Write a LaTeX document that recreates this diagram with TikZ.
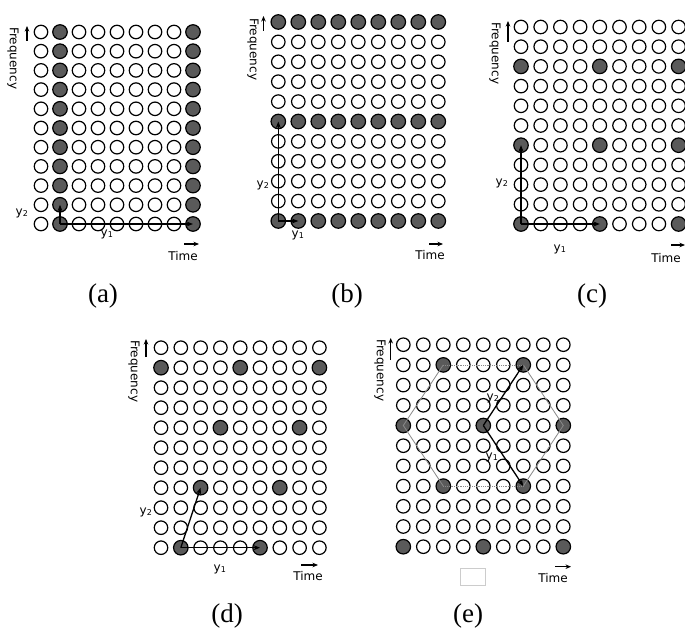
\documentclass[tikz,border=0pt]{standalone}
\usepackage{fontspec}
\setmainfont{Liberation Serif}
\newfontfamily\labfont{DejaVu Sans}
\usetikzlibrary{arrows.meta}
\definecolor{dotgray}{HTML}{5A5A5A}
\definecolor{hexgray}{HTML}{8A8A8A}
\begin{document}
\begin{tikzpicture}[x=1pt,y=-1pt,
  opn/.style={circle,draw=black,line width=1.2pt,minimum size=13.5pt,inner sep=0pt},
  fil/.style={opn,fill=dotgray,minimum size=14.5pt},
  vec/.style={line width=1.3pt,-{Stealth[length=6.5pt,width=5pt]}},
  axarrow/.style={line width=1.1pt,-{Stealth[length=5.5pt,width=4.5pt]}},
  small/.style={font=\labfont\fontsize{12}{14}\selectfont,inner sep=0pt},
  freqlab/.style={small,rotate=-90,anchor=west},
  subcap/.style={font=\fontsize{27}{30}\selectfont,inner sep=0pt,anchor=base},
  hexline/.style={hexgray,line width=0.8pt}]
\fill[white] (0,0) rectangle (685,628);
\useasboundingbox (0,0) rectangle (685,628);

% ---------- panel (a)
\begin{scope}[shift={(41,224)},x=19pt,y=19.2pt]
\foreach \i in {0,...,8}{\foreach \j in {0,...,10}{
  \pgfmathtruncatemacro\isf{or(\i==1,\i==8)}
  \ifnum\isf=1 \node[fil] (a-\i-\j) at (\i,\j) {};\else \node[opn] (a-\i-\j) at (\i,\j) {};\fi}}
\end{scope}
\draw[vec] (a-1-0.center) -- (a-8-0.center);
\draw[vec] (a-1-0.center) -- (a-1-1.center);
\node[small] (a-y1) at (107,234) {y\textsubscript{1}};
\node[small] (a-y2) at (22,213) {y\textsubscript{2}};
\node[freqlab] (a-freq) at (13,27) {Frequency};
\coordinate (a-fb) at (27,41); \coordinate (a-ft) at (27,26);
\draw[axarrow] (a-fb) -- (a-ft);
\node[small] (a-time) at (183,256) {Time};
\coordinate (a-tl) at (184,244); \coordinate (a-tr) at (199,244);
\draw[axarrow] (a-tl) -- (a-tr);
\node[subcap] (a-cap) at (103,302) {(a)};

% ---------- panel (b)
\begin{scope}[shift={(278.3,221)},x=20pt,y=19.9pt]
\foreach \i in {0,...,8}{\foreach \j in {0,...,10}{
  \pgfmathtruncatemacro\isf{or(\j==0,or(\j==5,\j==10))}
  \ifnum\isf=1 \node[fil] (b-\i-\j) at (\i,\j) {};\else \node[opn] (b-\i-\j) at (\i,\j) {};\fi}}
\end{scope}
\draw[vec] (b-0-0.center) -- (b-1-0.center);
\draw[vec] (b-0-0.center) -- (b-0-5.center);
\node[small] (b-y1) at (298,235) {y\textsubscript{1}};
\node[small] (b-y2) at (263,185) {y\textsubscript{2}};
\node[freqlab] (b-freq) at (253,18) {Frequency};
\coordinate (b-fb) at (263.5,31); \coordinate (b-ft) at (263.5,16);
\draw[axarrow] (b-fb) -- (b-ft);
\node[small] (b-time) at (430,255) {Time};
\coordinate (b-tl) at (429,244); \coordinate (b-tr) at (443,244);
\draw[axarrow] (b-tl) -- (b-tr);
\node[subcap] (b-cap) at (347,302) {(b)};

% ---------- panel (c)
\begin{scope}[shift={(521,224)},x=19.7pt,y=19.7pt]
\foreach \i in {0,...,8}{\foreach \j in {0,...,10}{
  \pgfmathtruncatemacro\isf{and(mod(\i,4)==0,mod(\j,4)==0)}
  \ifnum\isf=1 \node[fil] (c-\i-\j) at (\i,\j) {};\else \node[opn] (c-\i-\j) at (\i,\j) {};\fi}}
\end{scope}
\draw[vec] (c-0-0.center) -- (c-4-0.center);
\draw[vec] (c-0-0.center) -- (c-0-4.center);
\node[small] (c-y1) at (560,249) {y\textsubscript{1}};
\node[small] (c-y2) at (502,183) {y\textsubscript{2}};
\node[freqlab] (c-freq) at (495,22) {Frequency};
\coordinate (c-fb) at (508,42); \coordinate (c-ft) at (508,21);
\draw[axarrow] (c-fb) -- (c-ft);
\node[small] (c-time) at (666,258) {Time};
\coordinate (c-tl) at (671,245); \coordinate (c-tr) at (685,245);
\draw[axarrow] (c-tl) -- (c-tr);
\node[subcap] (c-cap) at (592,302) {(c)};

% ---------- panel (d)
\begin{scope}[shift={(161,547.7)},x=19.8pt,y=20pt]
\foreach \i in {0,...,8}{\foreach \j in {0,...,10}{
  \pgfmathtruncatemacro\isf{mod(3*\i+33-\j,12)==0}
  \ifnum\isf=1 \node[fil] (d-\i-\j) at (\i,\j) {};\else \node[opn] (d-\i-\j) at (\i,\j) {};\fi}}
\end{scope}
\draw[vec] (d-1-0.center) -- (d-5-0.center);
\draw[vec] (d-1-0.center) -- (d-2-3.center);
\node[small] (d-y1) at (220,569) {y\textsubscript{1}};
\node[small] (d-y2) at (146,512) {y\textsubscript{2}};
\node[freqlab] (d-freq) at (134,340) {Frequency};
\coordinate (d-fb) at (146,357); \coordinate (d-ft) at (146,339);
\draw[axarrow] (d-fb) -- (d-ft);
\node[small] (d-time) at (308,576) {Time};
\coordinate (d-tl) at (301,565); \coordinate (d-tr) at (318,565);
\draw[axarrow] (d-tl) -- (d-tr);
\node[subcap] (d-cap) at (227,622) {(d)};

% ---------- panel (e)
\begin{scope}[shift={(403.3,546.7)},x=20pt,y=20.2pt]
\foreach \i in {0,...,8}{\foreach \j in {0,...,10}{
  \pgfmathtruncatemacro\isf{mod(3*\i-2*\j+24,12)==0}
  \ifnum\isf=1 \node[fil] (e-\i-\j) at (\i,\j) {};\else \node[opn] (e-\i-\j) at (\i,\j) {};\fi}}
\end{scope}
\draw[hexline,densely dotted] (e-2-9.center) -- (e-6-9.center);
\draw[hexline,densely dotted] (e-2-3.center) -- (e-6-3.center);
\draw[hexline] (e-6-9.center) -- (e-8-6.center) -- (e-6-3.center);
\draw[hexline] (e-2-3.center) -- (e-0-6.center) -- (e-2-9.center);
\draw[vec] (e-4-6.center) -- (e-6-9.center);
\draw[vec] (e-4-6.center) -- (e-6-3.center);
\node[small] (e-y1) at (492,457) {y\textsubscript{1}};
\node[small] (e-y2) at (493,398) {y\textsubscript{2}};
\node[freqlab] (e-freq) at (380,339) {Frequency};
\coordinate (e-fb) at (390.7,360); \coordinate (e-ft) at (390.7,338);
\draw[axarrow] (e-fb) -- (e-ft);
\node[small] (e-time) at (553,578) {Time};
\coordinate (e-tl) at (555,566.7); \coordinate (e-tr) at (571,566.7);
\draw[axarrow] (e-tl) -- (e-tr);
\node[draw=black!20,line width=0.6pt,minimum width=25pt,minimum height=17pt,inner sep=0pt] (e-box) at (472.5,576.5) {};
\node[subcap] (e-cap) at (468,622) {(e)};
\end{tikzpicture}
\end{document}
